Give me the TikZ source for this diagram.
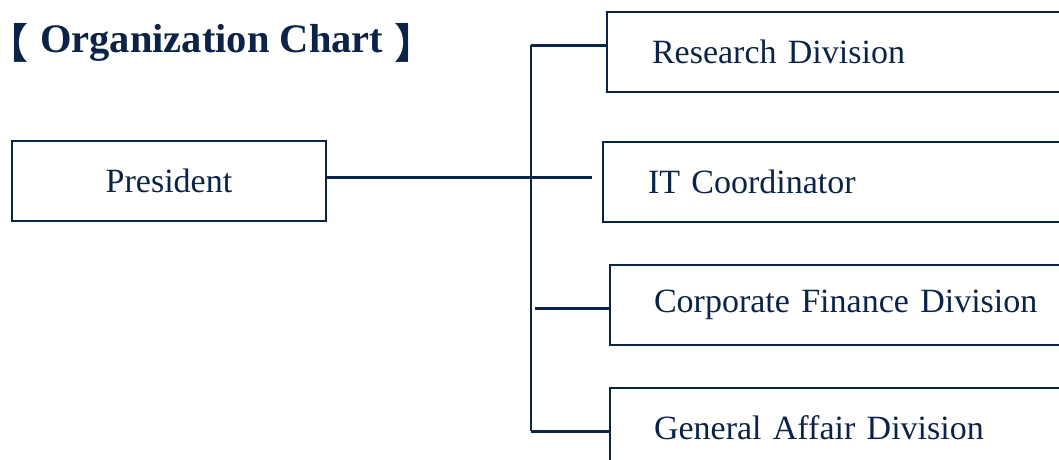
\documentclass[tikz,border=0pt]{standalone}
\usepackage{fontspec}
\setmainfont{Liberation Serif}
\newfontfamily\cjkfont{Noto Sans CJK SC}
\definecolor{navy}{HTML}{0B2346}
\begin{document}
\begin{tikzpicture}[x=1pt,y=-1pt,
  box/.style={draw=navy,line width=2pt,rectangle,anchor=north west,minimum height=80pt,
    text=navy,font=\fontsize{34}{36}\selectfont},
  divbox/.style={box,inner xsep=45pt,text width=560pt,align=left},
  conn/.style={draw=navy,line width=3pt},
  trunk/.style={draw=navy,line width=2.4pt},
  brk/.style={text=navy,font=\cjkfont\bfseries\fontsize{41}{43}\selectfont,inner sep=0pt}]
\useasboundingbox (0,0) rectangle (1059,459);
\clip (0,0) rectangle (1059,459);
\node[anchor=west,text=navy,font=\bfseries\fontsize{40.5}{42}\selectfont,inner sep=0pt] (title) at (40,43)
  {Organization Chart};
\node[brk,anchor=east] (lb) at ([xshift=-11pt]title.west) {\makebox[20pt][r]{【}};
\node[brk,anchor=west] (rb) at ([xshift=11pt]title.east) {\makebox[20pt][l]{】}};
\node[box,minimum width=314pt,inner sep=0pt] (pres) at (11,140) {President};
\node[divbox] (res) at (606,11) {Research Division};
\node[divbox] (it) at (602,141) {IT Coordinator};
\node[divbox,inner xsep=44pt] (corp) at (609,264) {Corporate Finance Division};
\node[divbox,inner xsep=44pt] (gen) at (609,387) {General Affair Division};
\coordinate (ttop) at (531,45);
\coordinate (tbot) at (531,431);
\coordinate (tcorp) at (535,308);
\coordinate (pend) at (592,177);
\draw[trunk] (ttop) -- (tbot);
\draw[conn] (pres.east |- pend) -- (pend);
\draw[conn] (ttop) -- (ttop -| res.west);
\draw[conn] (tcorp) -- (tcorp -| corp.west);
\draw[conn] (tbot) -- (tbot -| gen.west);
\end{tikzpicture}
\end{document}
